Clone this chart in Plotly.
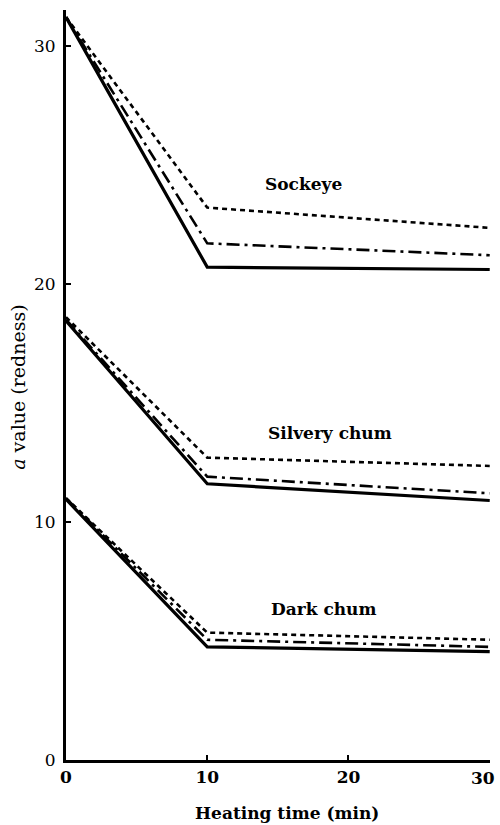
import plotly.graph_objects as go

# ---- data ----
time_min = [0, 10, 30]

sockeye_solid = [31.2, 20.7, 20.6]
sockeye_dashdot = [31.2, 21.7, 21.2]
sockeye_dotted = [31.2, 23.2, 22.35]

silvery_solid = [18.45, 11.6, 10.9]
silvery_dashdot = [18.5, 11.9, 11.2]
silvery_dotted = [18.6, 12.7, 12.35]

dark_solid = [10.95, 4.75, 4.55]
dark_dashdot = [11.0, 5.05, 4.75]
dark_dotted = [11.0, 5.35, 5.05]

group_names = ["Sockeye", "Silvery chum", "Dark chum"]
x_ticks = [0, 10, 20, 30]
y_ticks = [0, 10, 20, 30]

FONT = "DejaVu Serif"

styles = {
    "solid": dict(width=3.2, dash="solid"),
    "dashdot": dict(width=2.6, dash="13px,5px,3px,5px"),
    "dotted": dict(width=2.6, dash="5px,4px"),
}

series = [
    (sockeye_solid, "solid"), (sockeye_dashdot, "dashdot"), (sockeye_dotted, "dotted"),
    (silvery_solid, "solid"), (silvery_dashdot, "dashdot"), (silvery_dotted, "dotted"),
    (dark_solid, "solid"), (dark_dashdot, "dashdot"), (dark_dotted, "dotted"),
]

fig = go.Figure()
for vals, st in series:
    fig.add_trace(go.Scatter(
        x=time_min, y=vals, mode="lines",
        line=dict(color="black", width=styles[st]["width"], dash=styles[st]["dash"]),
        showlegend=False, hoverinfo="skip",
    ))

label_pos = [(16.8, 24.2), (18.7, 13.75), (18.2, 6.35)]
for name, (lx, ly) in zip(group_names, label_pos):
    fig.add_annotation(x=lx, y=ly, text=f"<b>{name}</b>", showarrow=False,
                       font=dict(family=FONT, size=17, color="black"))

# y-axis title
fig.add_annotation(xref="paper", yref="paper", x=-0.112, y=0.497,
                   xanchor="center", yanchor="middle",
                   text="<i>a</i> value (redness)", textangle=-90, showarrow=False,
                   font=dict(family=FONT, size=19, color="black"))
# x-axis title
fig.add_annotation(xref="paper", yref="paper", x=0.521, y=-0.0707,
                   xanchor="center", yanchor="middle",
                   text="<b>Heating time (min)</b>", showarrow=False,
                   font=dict(family=FONT, size=17, color="black"))

# last x tick label, kept inside the page edge
x_ticktext = [f"<b>{t}</b>" for t in x_ticks]
last_label = x_ticktext[-1]
x_ticktext[-1] = ""
fig.add_annotation(xref="paper", yref="paper", x=1.0165, y=-0.0235,
                   xanchor="right", yanchor="middle", showarrow=False,
                   text=last_label, font=dict(family=FONT, size=17, color="black"))

fig.update_layout(
    width=500, height=825,
    margin=dict(l=66, r=10, t=10, b=65, autoexpand=False),
    paper_bgcolor="white", plot_bgcolor="white",
    font=dict(family=FONT, color="black"),
    showlegend=False,
)
fig.update_xaxes(
    range=[0, 30.02], tickvals=x_ticks, ticktext=x_ticktext,
    ticks="inside", ticklen=5, tickwidth=2, tickcolor="black",
    showline=True, linewidth=3, linecolor="black", automargin=False,
    showgrid=False, zeroline=False,
    tickfont=dict(family=FONT, size=17, color="black"),
)
fig.update_yaxes(
    range=[0, 31.5], tickvals=y_ticks,
    ticks="inside", ticklen=5, tickwidth=2, tickcolor="black",
    showline=True, linewidth=3, linecolor="black", automargin=False,
    showgrid=False, zeroline=False, ticklabelstandoff=4,
    tickfont=dict(family=FONT, size=17, color="black"),
)

fig.write_html("out.html")
